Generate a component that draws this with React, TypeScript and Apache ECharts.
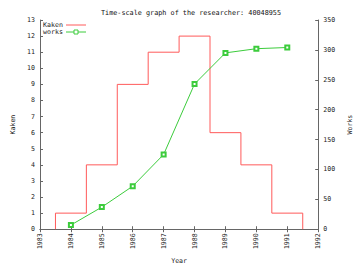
import React, { useEffect, useRef } from "react";
import * as echarts from "echarts";

const years = [1984, 1985, 1986, 1987, 1988, 1989, 1990, 1991];
const kaken = [1, 4, 9, 11, 12, 6, 4, 1];
const works = [7, 37, 72, 125, 243, 295, 302, 304];
const titleText = "Time-scale graph of the researcher: 40048955";
const legendNames = ["Kaken", "works"];

const FONT = "DejaVu Sans Mono";
const AXIS = "#666";
const RED = "#ff5a5a";
const GREEN = "#3ccc3c";

export default function App() {
  const ref = useRef<HTMLDivElement>(null);
  useEffect(() => {
    document.body.style.margin = "0";
    const chart = echarts.init(ref.current!, null, { renderer: "svg" });
    const kakenSteps: number[][] = [[years[0] - 0.5, 0]];
    years.forEach((y, i) => kakenSteps.push([y - 0.5, kaken[i]]));
    kakenSteps.push([years[years.length - 1] + 0.5, 0]);
    const worksData = years.map((y, i) => [y, works[i]]);
    const lbl = { fontFamily: FONT, fontSize: 6.6, color: "#222" };
    const txt = (text: string, y: number) => ({
      type: "text",
      left: 43,
      top: y - 4,
      style: { text, fontFamily: FONT, fontSize: 6.6, fill: "#222" },
    });
    chart.setOption({
      animation: false,
      backgroundColor: "#fff",
      title: {
        text: titleText,
        left: 186,
        top: 4,
        textAlign: "center",
        textStyle: { fontFamily: FONT, fontSize: 6.8, fontWeight: "normal", color: "#111" },
      },
      graphic: [
        txt(legendNames[0], 25),
        { type: "line", shape: { x1: 66, y1: 25, x2: 86, y2: 25 }, style: { stroke: RED, lineWidth: 1 } },
        txt(legendNames[1], 32),
        { type: "line", shape: { x1: 66, y1: 32, x2: 86, y2: 32 }, style: { stroke: GREEN, lineWidth: 1 } },
        { type: "rect", shape: { x: 74, y: 30, width: 4, height: 4 }, style: { fill: "#fff", stroke: GREEN, lineWidth: 1 } },
      ],
      grid: { left: 40, right: 29, top: 20, bottom: 26 },
      xAxis: [
        {
          type: "value",
          min: 1983,
          max: 1992,
          interval: 1,
          name: "Year",
          nameLocation: "middle",
          nameGap: 22,
          nameTextStyle: lbl,
          axisLine: { lineStyle: { color: AXIS } },
          axisTick: { inside: true, length: 3, lineStyle: { color: AXIS } },
          axisLabel: { ...lbl, rotate: 90, margin: 4, formatter: (v: number) => String(v) },
          splitLine: { show: false },
        },
        {
          type: "value",
          position: "top",
          min: 1983,
          max: 1992,
          interval: 1,
          axisLine: { lineStyle: { color: AXIS } },
          axisTick: { inside: true, length: 3, lineStyle: { color: AXIS } },
          axisLabel: { show: false },
          splitLine: { show: false },
        },
      ],
      yAxis: [
        {
          type: "value",
          min: 0,
          max: 13,
          interval: 1,
          name: "Kaken",
          nameLocation: "middle",
          nameGap: 22,
          nameRotate: 90,
          nameTextStyle: lbl,
          axisLine: { show: true, lineStyle: { color: AXIS } },
          axisTick: { show: true, inside: true, length: 3, lineStyle: { color: AXIS } },
          axisLabel: { ...lbl, margin: 5 },
          splitLine: { show: false },
        },
        {
          type: "value",
          min: 0,
          max: 350,
          interval: 50,
          position: "right",
          name: "Works",
          nameLocation: "middle",
          nameGap: 22,
          nameRotate: 90,
          nameTextStyle: lbl,
          axisLine: { show: true, lineStyle: { color: AXIS } },
          axisTick: { show: true, inside: true, length: 3, lineStyle: { color: AXIS } },
          axisLabel: { ...lbl, margin: 5 },
          splitLine: { show: false },
        },
      ],
      series: [
        {
          name: "Kaken",
          type: "line",
          step: "end",
          xAxisIndex: 0,
          yAxisIndex: 0,
          data: kakenSteps,
          symbol: "none",
          lineStyle: { color: RED, width: 1 },
          itemStyle: { color: RED },
        },
        {
          name: "works",
          type: "line",
          xAxisIndex: 0,
          yAxisIndex: 1,
          data: worksData,
          symbol: "emptyRect",
          symbolSize: 4,
          lineStyle: { color: GREEN, width: 1 },
          itemStyle: { color: GREEN, borderColor: GREEN, borderWidth: 1 },
        },
      ],
    });
    return () => chart.dispose();
  }, []);
  return <div ref={ref} style={{ width: 361, height: 269 }} />;
}
